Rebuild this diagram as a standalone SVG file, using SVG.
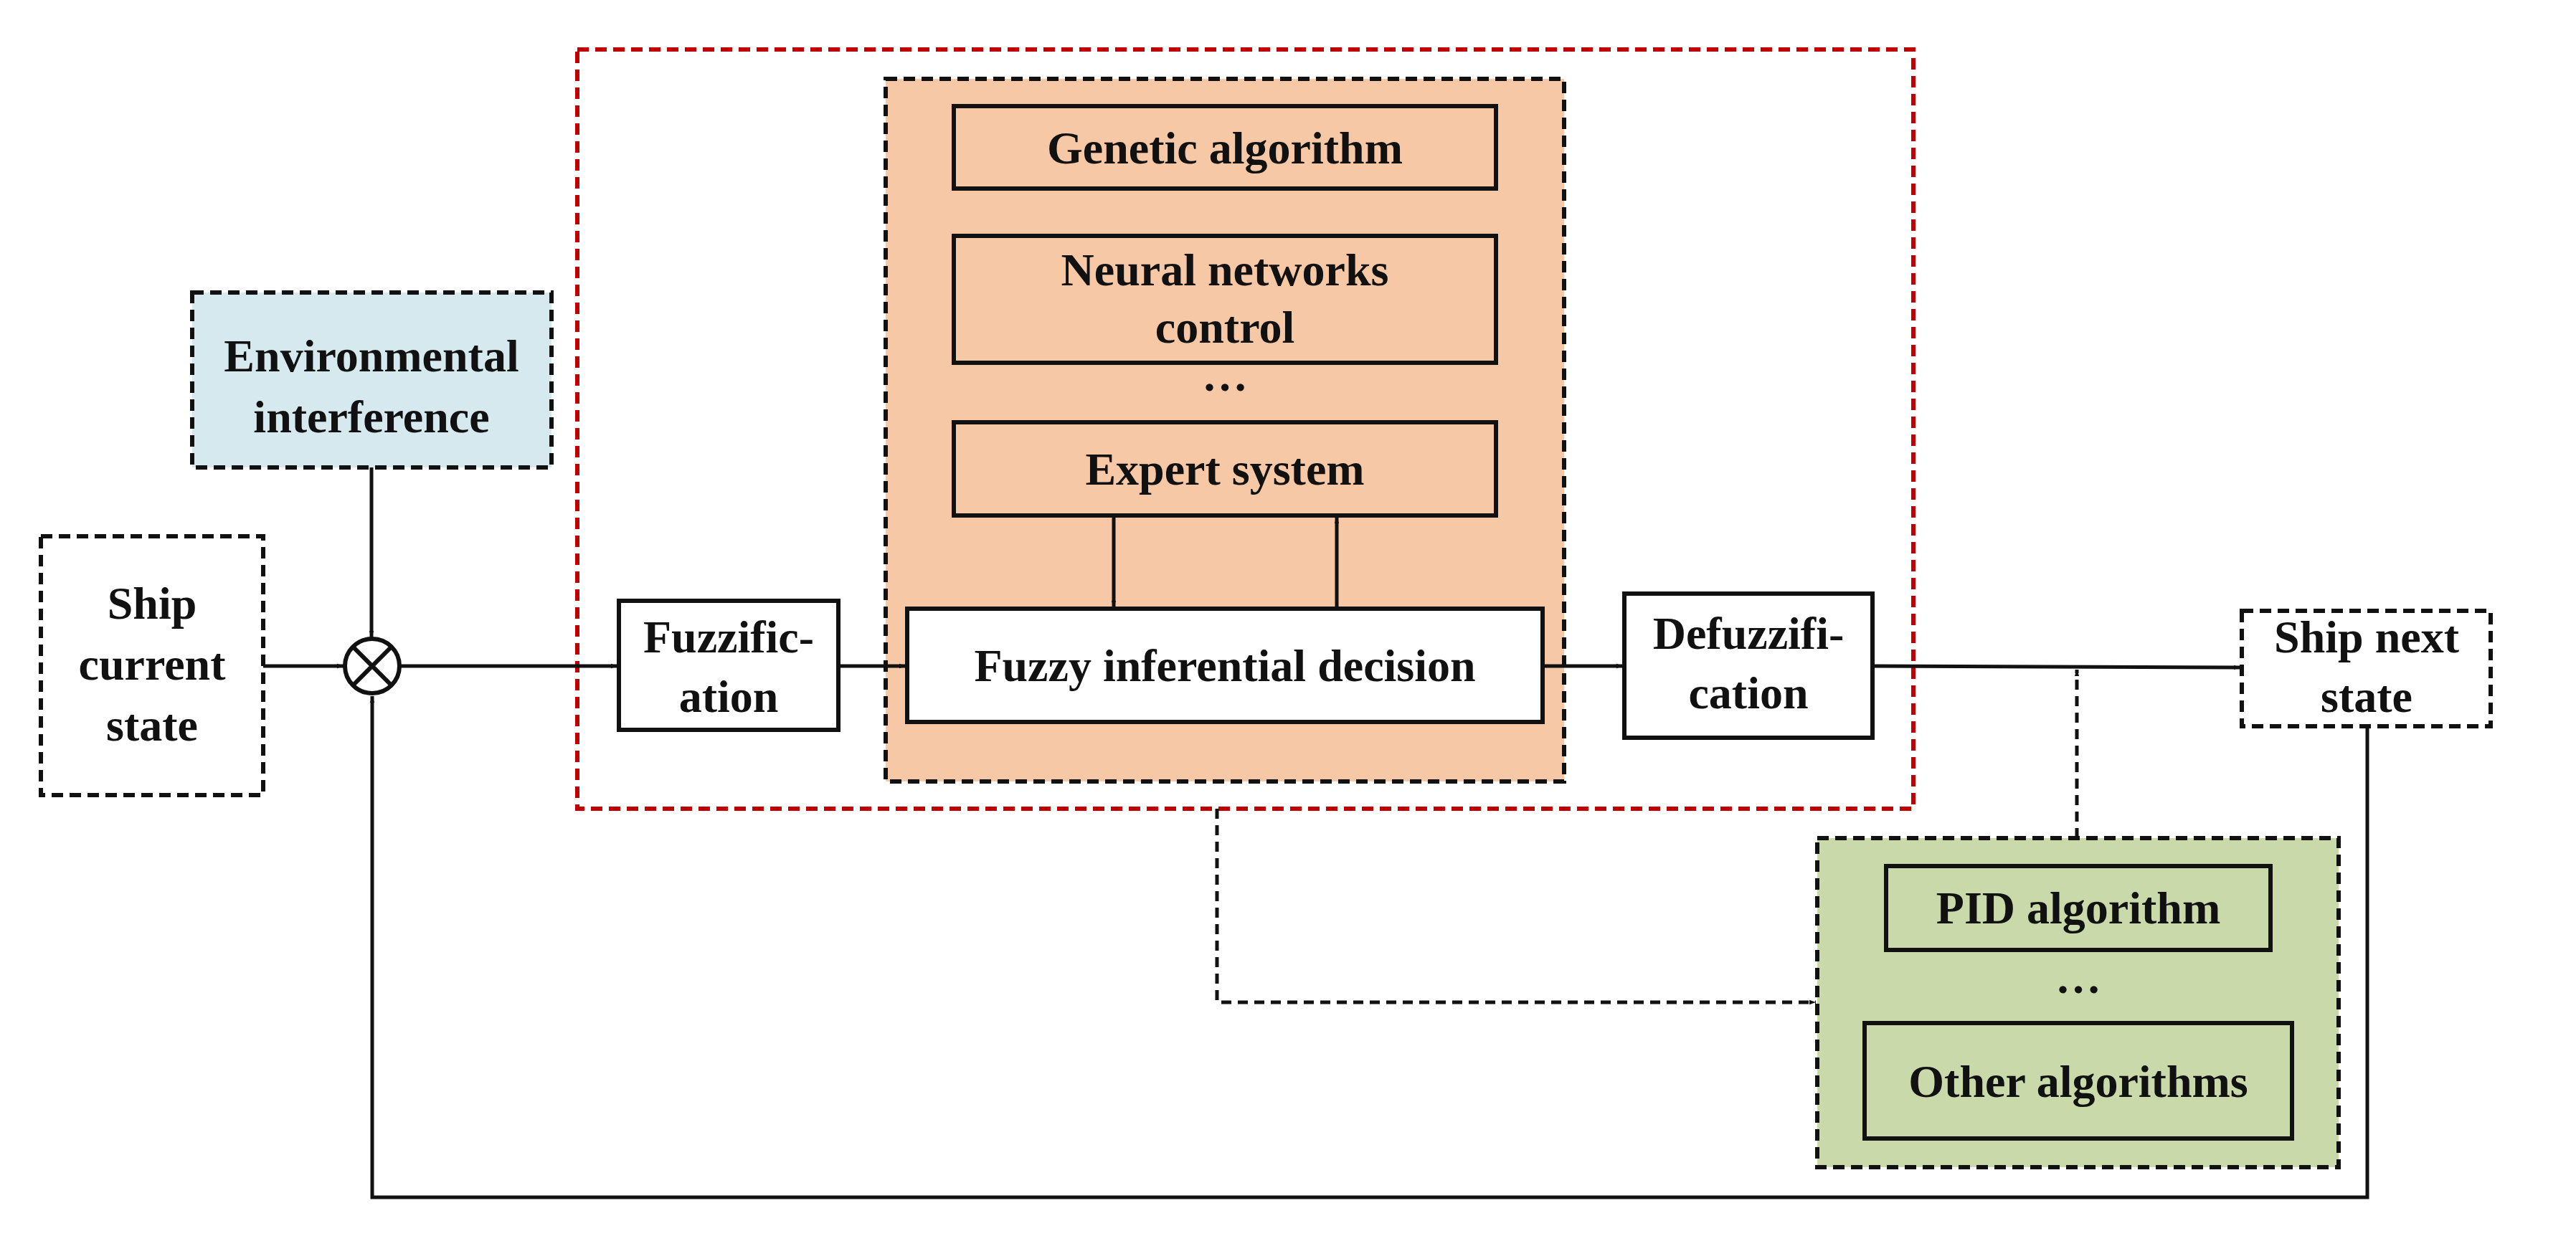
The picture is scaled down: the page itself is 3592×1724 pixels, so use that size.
<svg xmlns="http://www.w3.org/2000/svg" width="3592" height="1724" viewBox="0 0 3592 1724">
<defs>
<style>
text{font-family:"Liberation Serif","Times New Roman",serif;font-weight:bold;font-size:64px;fill:#111;text-anchor:middle}
.solid{fill:#fff;stroke:#111;stroke-width:6}
.dash{stroke:#111;stroke-width:6;stroke-dasharray:16 9}
.ln{fill:none;stroke:#111;stroke-width:5}
.dl{fill:none;stroke:#111;stroke-width:5;stroke-dasharray:14 9}
</style>
<marker id="ah" viewBox="0 0 10 10" refX="10" refY="5" markerWidth="9" markerHeight="9" markerUnits="userSpaceOnUse" orient="auto"><path d="M0,1.5L10,5L0,8.5z" fill="#111"/></marker>
<marker id="a" viewBox="0 0 10 10" refX="10" refY="5" markerWidth="11" markerHeight="11" orient="auto"><path d="M0,1.5L10,5L0,8.5z" fill="#111"/></marker>
</defs>
<rect width="3592" height="1724" fill="#fff"/>
<g id="controller"><rect x="805" y="69" width="1863" height="1059" fill="none" stroke="#c00000" stroke-width="6" stroke-dasharray="16 9"/></g>
<g id="intelligent"><rect x="1235" y="110" width="946" height="980" fill="#f7c8a6" class="dash"/></g>
<g id="env"><rect x="268" y="408" width="501" height="244" fill="#d5e9ee" class="dash"/><text x="518" y="518">Environmental</text><text x="518" y="603">interference</text></g>
<g id="current"><rect x="57" y="748" width="310" height="361" fill="#fff" class="dash"/><text x="212" y="863">Ship</text><text x="212" y="948">current</text><text x="212" y="1033">state</text></g>
<g id="sum"><circle cx="519" cy="929" r="38" fill="#fff" stroke="#111" stroke-width="6"/><path d="M492,902L546,956M546,902L492,956" stroke="#111" stroke-width="6"/></g>
<g id="fuzzification"><rect x="863" y="838" width="306" height="180" class="solid"/><text x="1016" y="910">Fuzzific-</text><text x="1016" y="993">ation</text></g>
<g id="genetic"><rect x="1330" y="148" width="756" height="115" fill="#f7c8a6" stroke="#111" stroke-width="6"/><text x="1708" y="228">Genetic algorithm</text></g>
<g id="neural"><rect x="1330" y="329" width="756" height="177" fill="#f7c8a6" stroke="#111" stroke-width="6"/><text x="1708" y="398">Neural networks</text><text x="1708" y="478">control</text></g>
<text x="1708" y="545">…</text>
<g id="expert"><rect x="1330" y="589" width="756" height="130" fill="#f7c8a6" stroke="#111" stroke-width="6"/><text x="1708" y="676">Expert system</text></g>
<g id="inference"><rect x="1265" y="849" width="886" height="158" class="solid"/><text x="1708" y="950">Fuzzy inferential decision</text></g>
<g id="defuzz"><rect x="2265" y="828" width="346" height="201" class="solid"/><text x="2438" y="905">Defuzzifi-</text><text x="2438" y="988">cation</text></g>
<g id="next"><rect x="3126" y="852" width="347" height="161" fill="#fff" class="dash"/><text x="3300" y="910">Ship next</text><text x="3300" y="993">state</text></g>
<g id="others"><rect x="2534" y="1169" width="727" height="459" fill="#c9d9a9" class="dash"/>
<rect x="2630" y="1208" width="536" height="117" fill="#c9d9a9" stroke="#111" stroke-width="6"/><text x="2898" y="1288">PID algorithm</text>
<text x="2898" y="1385">…</text>
<rect x="2600" y="1427" width="596" height="161" fill="#c9d9a9" stroke="#111" stroke-width="6"/><text x="2898" y="1530">Other algorithms</text></g>
<g id="connectors">
<path class="ln" d="M518,652V889" marker-end="url(#ah)"/>
<path class="ln" d="M367,929H479" marker-end="url(#ah)"/>
<path class="ln" d="M557,929H861" marker-end="url(#ah)"/>
<path class="ln" d="M1169,929H1263" marker-end="url(#ah)"/>
<path class="ln" d="M1553,719V847" marker-end="url(#ah)"/>
<path class="ln" d="M1864,849V721" marker-end="url(#ah)"/>
<path class="ln" d="M2151,929H2263" marker-end="url(#ah)"/>
<path class="ln" d="M2611,929L3124,931" marker-end="url(#ah)"/>
<path class="dl" d="M2896,1169V934" marker-end="url(#ah)"/>
<path class="dl" d="M1697,1128V1398H2532" marker-end="url(#ah)"/>
<path class="ln" d="M3301,1013V1670H519V971" marker-end="url(#ah)"/>
</g>
</svg>
